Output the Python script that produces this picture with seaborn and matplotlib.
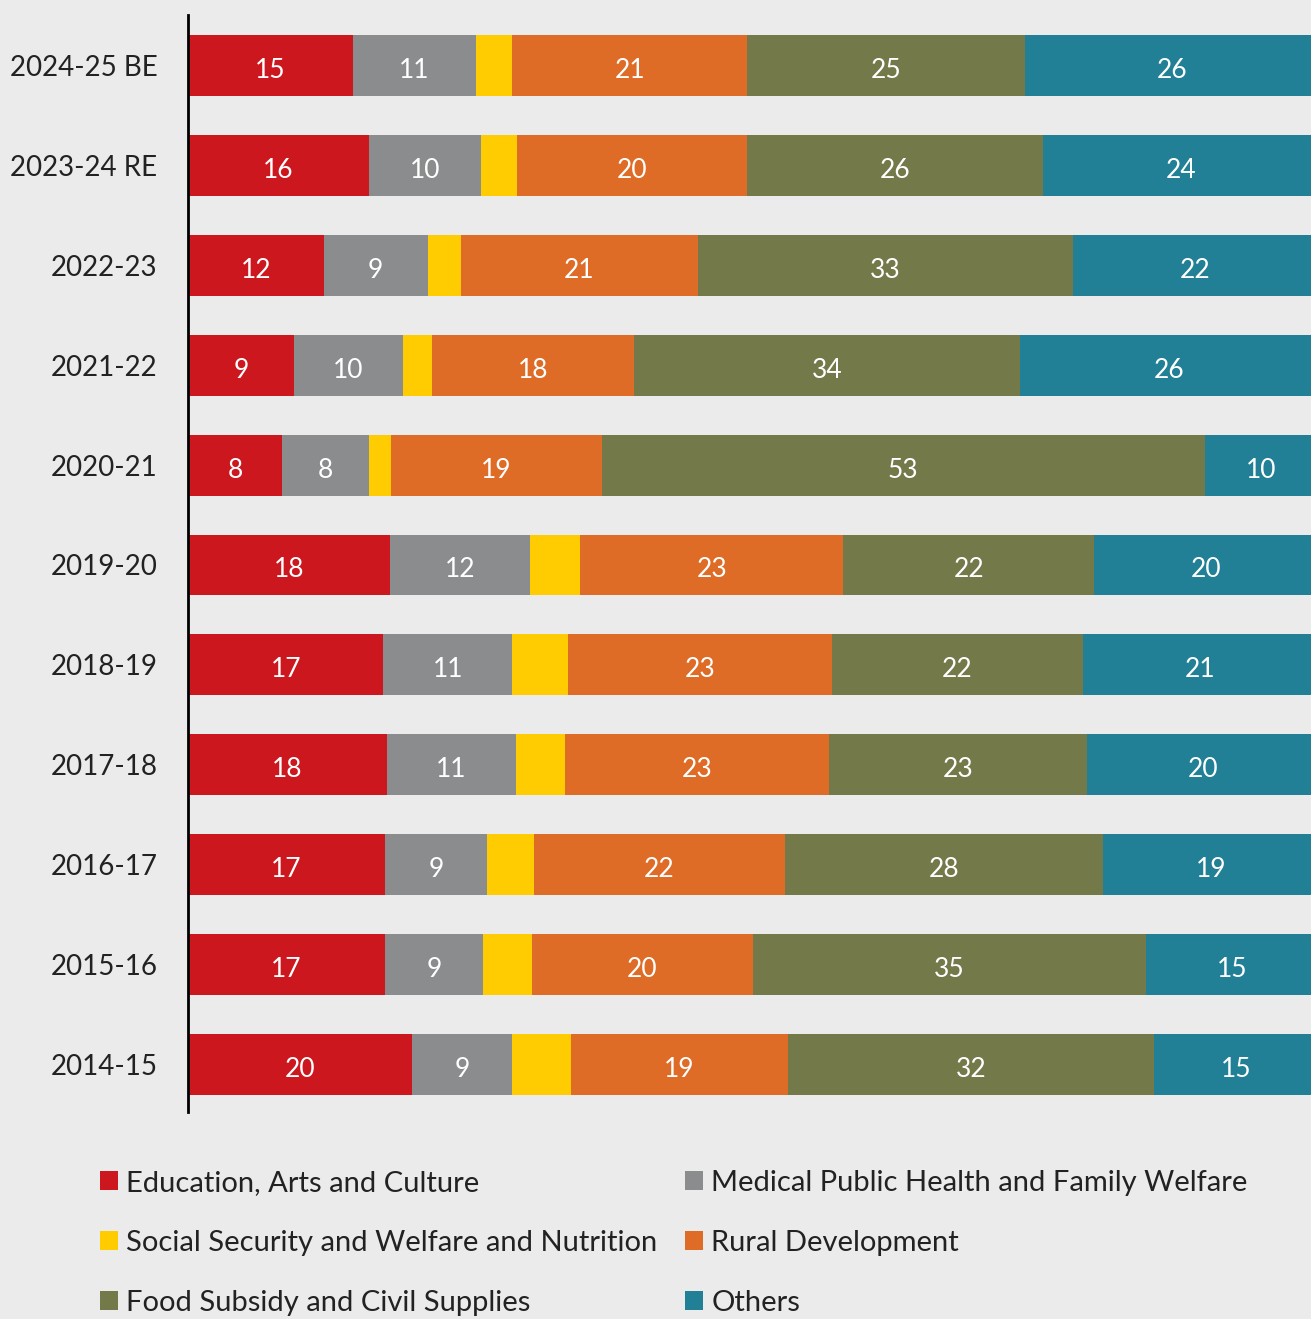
import numpy as np
import pandas as pd
import matplotlib
matplotlib.use("Agg")
import matplotlib.pyplot as plt
import seaborn as sns
from matplotlib.patches import Patch

years = ["2024-25 BE", "2023-24 RE", "2022-23", "2021-22", "2020-21", "2019-20",
         "2018-19", "2017-18", "2016-17", "2015-16", "2014-15"]
education = [14.6, 16.0, 12.0, 9.4, 8.3, 17.9, 17.3, 17.6, 17.4, 17.4, 19.8]
medical = [10.9, 9.9, 9.2, 9.6, 7.7, 12.4, 11.4, 11.4, 9.1, 8.7, 8.9]
social = [3.2, 3.2, 3.0, 2.6, 2.0, 4.4, 4.9, 4.4, 4.1, 4.3, 5.2]
rural = [20.8, 20.4, 20.9, 17.9, 18.6, 23.3, 23.4, 23.3, 22.2, 19.6, 19.2]
food = [24.6, 26.2, 33.2, 34.1, 53.4, 22.2, 22.2, 22.9, 28.2, 34.8, 32.4]
others = [25.9, 24.3, 21.7, 26.4, 10.0, 19.8, 20.8, 20.4, 19.0, 15.2, 14.6]

series = ["Education, Arts and Culture", "Medical Public Health and Family Welfare",
          "Social Security and Welfare and Nutrition", "Rural Development",
          "Food Subsidy and Civil Supplies", "Others"]
colors = ["#cd171e", "#8b8c8e", "#fecc00", "#de6c27", "#74794a", "#218096"]
show_label = [True, True, False, True, True, True]

df = pd.DataFrame({"year": years, series[0]: education, series[1]: medical,
                   series[2]: social, series[3]: rural, series[4]: food,
                   series[5]: others})
cum = df[series].cumsum(axis=1)

bg = "#ebebeb"
sns.set_style("white")
plt.rcParams["font.family"] = ["Lato", "DejaVu Sans"]

fig = plt.figure(figsize=(13.11, 13.19), dpi=100, facecolor=bg)
ax = fig.add_axes([188 / 1311, 1 - 1112 / 1319, 1 - 188 / 1311, (1112 - 15) / 1319])
ax.set_facecolor(bg)

# stacked bars: draw cumulative totals from the largest down
for s, c in reversed(list(zip(series, colors))):
    sns.barplot(x=cum[s], y=df["year"], color=c, saturation=1, width=0.61,
                linewidth=0, orient="h", ax=ax)

# segment labels
for i in range(len(years)):
    start = 0
    for s, show in zip(series, show_label):
        v = df[s][i]
        if show:
            ax.text(start + v / 2, i + 0.05, str(int(round(v))), color="white",
                    ha="center", va="center", fontsize=19)
        start += v

ax.set_xlim(0, (1311 - 188) / 11.3)
ax.set_ylim(10.475, -0.505)
ax.set_xlabel("")
ax.set_ylabel("")
ax.set_xticks([])
for sp in ["top", "right", "bottom"]:
    ax.spines[sp].set_visible(False)
ax.spines["left"].set_color("black")
ax.spines["left"].set_linewidth(2)
ax.tick_params(axis="y", length=0, pad=22, labelsize=20, labelcolor="#222222")

# legend, two columns
handles = [Patch(facecolor=c, edgecolor="none") for c in colors]
for col, x0 in [(0, 100), (1, 685)]:
    idx = [col, col + 2, col + 4]
    fig.legend([handles[k] for k in idx], [series[k] for k in idx],
               loc="upper left", bbox_to_anchor=(x0 / 1311, 1 - 1170 / 1319),
               frameon=False, fontsize=21, handlelength=0.6, handleheight=0.6,
               handletextpad=0.3, labelspacing=1.16, borderpad=0,
               borderaxespad=0, labelcolor="#222222")

fig.savefig("out.png", dpi=100, facecolor=bg)
